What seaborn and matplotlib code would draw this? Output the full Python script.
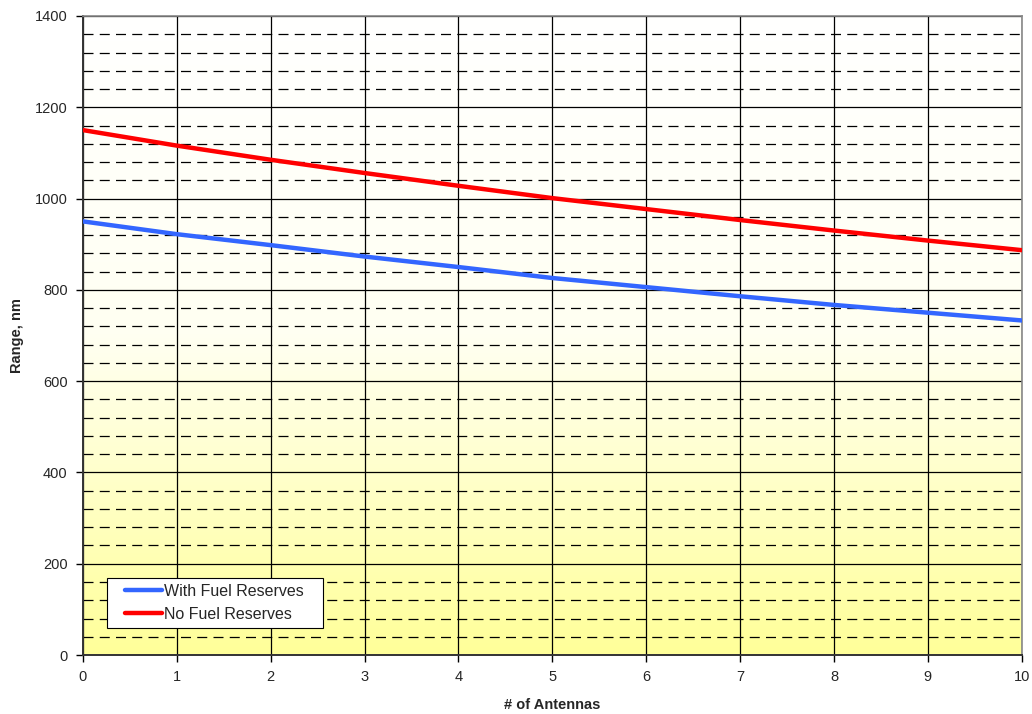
import numpy as np
import pandas as pd
import matplotlib
matplotlib.use("Agg")
import matplotlib.pyplot as plt
from matplotlib.colors import LinearSegmentedColormap
from matplotlib.patches import Rectangle
from matplotlib.ticker import MultipleLocator
import seaborn as sns

# Range versus number of antennas carried
antennas = [0, 1, 2, 3, 4, 5, 6, 7, 8, 9, 10]
with_reserves = [950, 922, 898, 873, 850, 826, 806, 786, 767, 750, 733]
no_reserves = [1150, 1116, 1085, 1056, 1028, 1001, 977, 953, 930, 908, 887]
series_names = ["With Fuel Reserves", "No Fuel Reserves"]
series_colors = ["#3366FF", "#FF0000"]

df = pd.DataFrame({
    "antennas": antennas * 2,
    "range": with_reserves + no_reserves,
    "series": [series_names[0]] * len(antennas) + [series_names[1]] * len(antennas),
})

sns.set_theme(style="white")
plt.rcParams["font.family"] = ["Liberation Sans", "DejaVu Sans"]

fig = plt.figure(figsize=(10.32, 7.14), dpi=100)
ax = fig.add_axes([0.0804, 0.0826, 0.9096, 0.895])

# white-to-yellow gradient plot area
grad = np.linspace(0, 1, 256).reshape(-1, 1)
cmap = LinearSegmentedColormap.from_list("bg", ["#FFFF99", "#FFFFF2", "#FFFFFF"])
ax.imshow(grad, extent=[0, 10, 0, 1400], origin="lower", aspect="auto",
          cmap=cmap, zorder=0)

ax.set_xlim(0, 10)
ax.set_ylim(0, 1400)
ax.xaxis.set_major_locator(MultipleLocator(1))
ax.yaxis.set_major_locator(MultipleLocator(200))
ax.yaxis.set_minor_locator(MultipleLocator(40))

ax.grid(which="major", axis="both", color="black", linewidth=0.9, linestyle="-", zorder=1)
ax.grid(which="minor", axis="y", color="black", linewidth=0.9, linestyle=(0, (8, 5)), zorder=1)
ax.set_axisbelow(True)

sns.lineplot(data=df, x="antennas", y="range", hue="series",
             palette=series_colors, linewidth=3.2, ax=ax, zorder=3)

ax.set_xlabel("# of Antennas", fontsize=10.5, fontweight="bold", labelpad=10)
ax.set_ylabel("Range, nm", fontsize=10.5, fontweight="bold", labelpad=8)

ax.tick_params(axis="both", which="major", labelsize=10.5, length=5, width=1,
               direction="out", color="black", bottom=True, left=True, pad=6)
ax.tick_params(axis="y", which="minor", length=0)

for side in ["left", "bottom"]:
    ax.spines[side].set_color("#333333")
    ax.spines[side].set_linewidth(1.4)
for side in ["top", "right"]:
    ax.spines[side].set_color("#888888")
    ax.spines[side].set_linewidth(1.2)

# legend box drawn as its own white panel, entries placed inside it
box = Rectangle((0.0256, 0.0423), 0.230, 0.078, transform=ax.transAxes,
                facecolor="white", edgecolor="black", linewidth=0.8, zorder=4)
ax.add_patch(box)
leg = ax.legend(loc="center left", bbox_to_anchor=(0.0447, 0.0814), fontsize=11.5,
                frameon=False, handlelength=2.3, handletextpad=0.15,
                borderpad=0, labelspacing=0.5, borderaxespad=0)
leg.set_zorder(5)

fig.savefig("out.png", dpi=100)
